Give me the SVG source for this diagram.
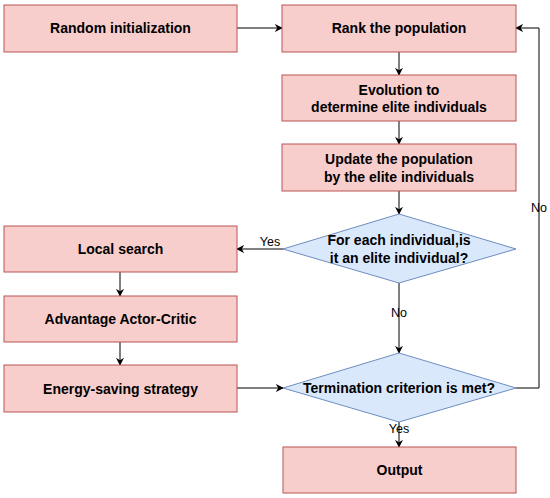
<svg xmlns="http://www.w3.org/2000/svg" width="550" height="498" viewBox="0 0 550 498">
<style>
.box{fill:#f8cecc;stroke:#b85450;stroke-width:1}
.dia{fill:#dae8fc;stroke:#6c8ebf;stroke-width:1}
.t{font-family:"Liberation Sans",Arial,sans-serif;font-size:14px;font-weight:bold;fill:#000;text-anchor:middle}
.lb{font-family:"Liberation Sans",Arial,sans-serif;font-size:12.5px;fill:#000;text-anchor:middle}
.c{fill:none;stroke:#000;stroke-width:1}
</style>
<defs>
<marker id="ar" viewBox="0 0 10 10" refX="9" refY="5" markerWidth="8" markerHeight="8" markerUnits="userSpaceOnUse" orient="auto">
<path d="M0,0 L10,5 L0,10 L3,5 Z" fill="#000"/>
</marker>
</defs>
<rect width="550" height="498" fill="#fff"/>
<g id="connectors">
<path class="c" d="M237,28 H282" marker-end="url(#ar)"/>
<path class="c" d="M399,52 V75" marker-end="url(#ar)"/>
<path class="c" d="M399,121 V144" marker-end="url(#ar)"/>
<path class="c" d="M399,191 V214" marker-end="url(#ar)"/>
<path class="c" d="M283,249 H237" marker-end="url(#ar)"/>
<path class="c" d="M399,283 V353" marker-end="url(#ar)"/>
<path class="c" d="M120,272 V296" marker-end="url(#ar)"/>
<path class="c" d="M120,342 V365" marker-end="url(#ar)"/>
<path class="c" d="M237,388 H283" marker-end="url(#ar)"/>
<path class="c" d="M516,388 H539 V28 H516" marker-end="url(#ar)"/>
<path class="c" d="M399,422 V447" marker-end="url(#ar)"/>
<text class="lb" x="270" y="246">Yes</text>
<text class="lb" x="399" y="317">No</text>
<text class="lb" x="539" y="212">No</text>
<text class="lb" x="399" y="433">Yes</text>
</g>
<g id="random-init">
<rect class="box" x="4" y="5" width="233" height="47"/>
<text class="t" x="120.5" y="33">Random initialization</text>
</g>
<g id="rank">
<rect class="box" x="282" y="5" width="234" height="47"/>
<text class="t" x="399" y="33">Rank the population</text>
</g>
<g id="evolution">
<rect class="box" x="282" y="75" width="234" height="46"/>
<text class="t" x="399" y="94.5">Evolution to</text>
<text class="t" x="399" y="112">determine elite individuals</text>
</g>
<g id="update">
<rect class="box" x="282" y="144" width="234" height="47"/>
<text class="t" x="399" y="164">Update the population</text>
<text class="t" x="399" y="181.5">by the elite individuals</text>
</g>
<g id="elite-check">
<polygon class="dia" points="399,214 516,249 399,283 283,249"/>
<text class="t" x="399" y="245">For each individual,is</text>
<text class="t" x="399" y="263">it an elite individual?</text>
</g>
<g id="local-search">
<rect class="box" x="4" y="226" width="233" height="46"/>
<text class="t" x="120.5" y="254">Local search</text>
</g>
<g id="a2c">
<rect class="box" x="4" y="296" width="233" height="46"/>
<text class="t" x="120.5" y="324">Advantage Actor-Critic</text>
</g>
<g id="energy">
<rect class="box" x="4" y="365" width="233" height="47"/>
<text class="t" x="120.5" y="393.5">Energy-saving strategy</text>
</g>
<g id="termination">
<polygon class="dia" points="399,353 516,388 399,422 283,388"/>
<text class="t" x="399" y="393">Termination criterion is met?</text>
</g>
<g id="output">
<rect class="box" x="283" y="447" width="233" height="46"/>
<text class="t" x="399.5" y="475">Output</text>
</g>
</svg>
